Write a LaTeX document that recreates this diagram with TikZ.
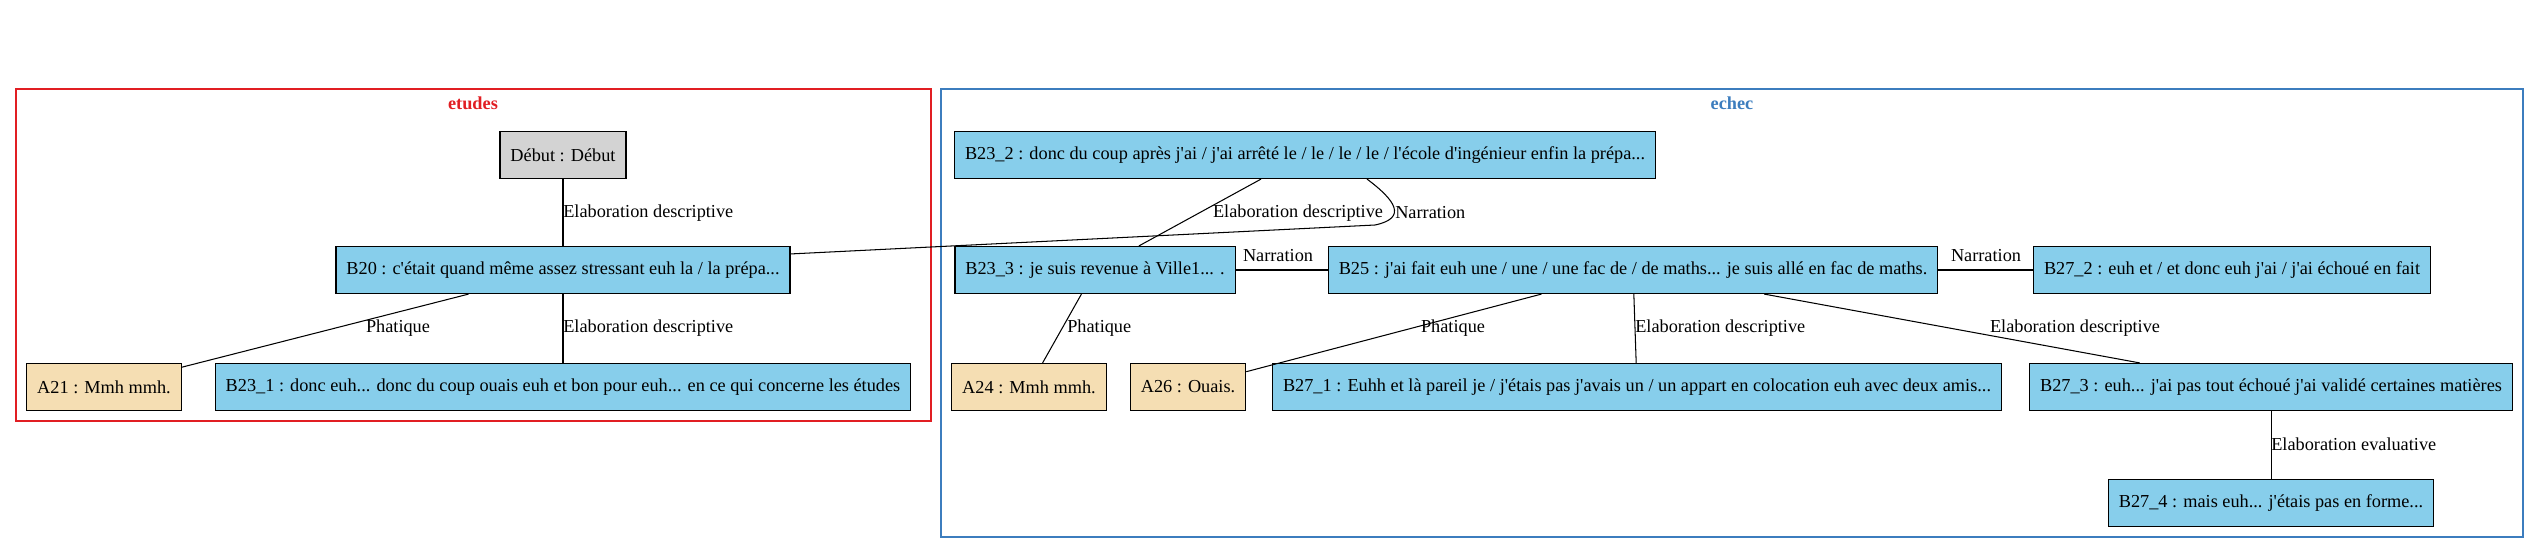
\documentclass[tikz,border=0pt]{standalone}
\usepackage{fontspec}
\setmainfont{Liberation Serif}[Ligatures=TeXOff]
\definecolor{skyblue}{HTML}{87CEEB}
\definecolor{wheat}{HTML}{F5DEB3}
\definecolor{grisclair}{HTML}{D3D3D3}
\definecolor{rougeclu}{RGB}{225,30,35}
\definecolor{bleuclu}{RGB}{60,125,190}
\begin{document}
\begin{tikzpicture}[x=0.766pt,y=-0.766pt,
  every node/.style={font=\fontsize{14}{16}\selectfont},
  seg/.style={draw=black,line width=0.9pt,inner xsep=8pt,minimum height=36pt},
  segB/.style={seg,fill=skyblue},
  segA/.style={seg,fill=wheat},
  segD/.style={seg,fill=grisclair},
  rel/.style={line width=0.8pt},
  lbl/.style={inner sep=0pt},
  clu/.style={line width=0.9pt}]
\useasboundingbox (0,0) rectangle (2539,553);
% clusters
\draw[clu,draw=rougeclu] (16,89) rectangle (931,421);
\node[text=rougeclu,font=\fontsize{14}{16}\selectfont\bfseries] (tetudes) at (473,103) {etudes};
\draw[clu,draw=bleuclu] (941,89) rectangle (2523,537);
\node[text=bleuclu,font=\fontsize{14}{16}\selectfont\bfseries] (techec) at (1732,103) {echec};
% etudes
\node[segD] (debut) at (563,155) {Début : Début};
\node[segB] (b20) at (563,270) {B20 : c'était quand même assez stressant euh la / la prépa...};
\node[segA] (a21) at (104,387) {A21 : Mmh mmh.};
\node[segB] (b231) at (563,387) {B23\_1 : donc euh... donc du coup ouais euh et bon pour euh... en ce qui concerne les études};
% echec
\node[segB] (b232) at (1305,155) {B23\_2 : donc du coup après j'ai / j'ai arrêté le / le / le / le / l'école d'ingénieur enfin la prépa...};
\node[segB] (b233) at (1095,270) {B23\_3 : je suis revenue à Ville1... .};
\node[segB] (b25) at (1633,270) {B25 : j'ai fait euh une / une / une fac de / de maths... je suis allé en fac de maths.};
\node[segB] (b272) at (2232,270) {B27\_2 : euh et / et donc euh j'ai / j'ai échoué en fait};
\node[segA] (a24) at (1029,387) {A24 : Mmh mmh.};
\node[segA] (a26) at (1188,387) {A26 : Ouais.};
\node[segB] (b271) at (1637,387) {B27\_1 : Euhh et là pareil je / j'étais pas j'avais un / un appart en colocation euh avec deux amis...};
\node[segB] (b273) at (2271,387) {B27\_3 : euh... j'ai pas tout échoué j'ai validé certaines matières};
\node[segB] (b274) at (2271,503) {B27\_4 : mais euh... j'étais pas en forme...};
% relations
\draw[rel] (debut) -- (b20);
\draw[rel] (b20) -- (a21);
\draw[rel] (b20) -- (b231);
\draw[rel] ([xshift=47.5pt]b232.south) .. controls (1395,200) and (1408,218) .. (1375,225)
  -- ([yshift=12.3pt]b20.east);
\draw[rel] (b232) -- (b233);
\draw[rel] (b233) -- (b25);
\draw[rel] (b233) -- (a24);
\draw[rel] (b25) -- (a26);
\draw[rel] (b25) -- (b271);
\draw[rel] (b25) -- (b273);
\draw[rel] (b25) -- (b272);
\draw[rel] (b273) -- (b274);
% labels
\node[lbl,anchor=west] (l1) at (563,213) {Elaboration descriptive};
\node[lbl] (l2) at (398,328) {Phatique};
\node[lbl,anchor=west] (l3) at (563,328) {Elaboration descriptive};
\node[lbl,anchor=west] (l4) at (1395,213) {Narration};
\node[lbl] (l5) at (1298,213) {Elaboration descriptive};
\node[lbl] (l6) at (1278,256) {Narration};
\node[lbl,anchor=west] (l7) at (1067,328) {Phatique};
\node[lbl] (l8) at (1453,328) {Phatique};
\node[lbl,anchor=west] (l9) at (1635,328) {Elaboration descriptive};
\node[lbl] (l10) at (2075,328) {Elaboration descriptive};
\node[lbl] (l11) at (1986,256) {Narration};
\node[lbl,anchor=west] (l12) at (2271,444) {Elaboration evaluative};
\end{tikzpicture}
\end{document}
